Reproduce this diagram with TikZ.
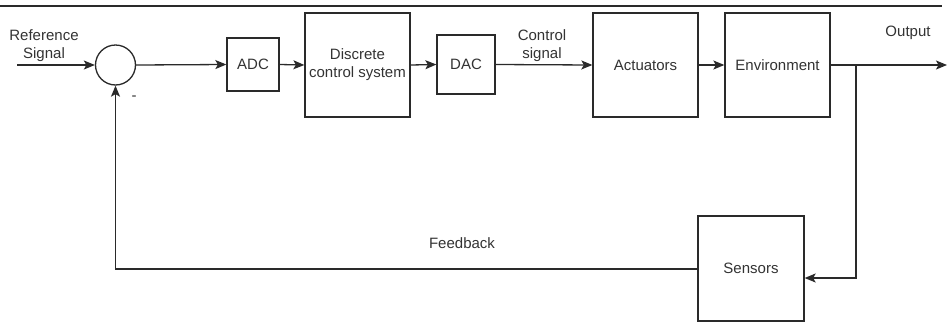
\documentclass[tikz,border=0pt]{standalone}
\usepackage{fontspec}
\setmainfont{Liberation Sans}
\usetikzlibrary{arrows.meta}
\definecolor{ink}{HTML}{2A2A2A}
\definecolor{txt}{HTML}{333333}
\begin{document}
\begin{tikzpicture}[x=1pt,y=-1pt,
  blk/.style={draw=ink,line width=1.3pt,fill=white,inner sep=0pt,font=\fontsize{15}{18}\selectfont,text=txt,align=center},
  lbl/.style={font=\fontsize{15}{18}\selectfont,text=txt,align=center,inner sep=0pt},
  conn/.style={draw=ink,line width=1.3pt,-{Stealth[length=11pt,width=9pt,inset=2.5pt]}},
  wire/.style={draw=ink,line width=1.3pt}]
\useasboundingbox (0,0) rectangle (948,322);
\fill[white] (0,0) rectangle (948,322);
\draw[ink,line width=1.5pt] (0,6) -- (942,6);
% nodes
\node[circle,draw=ink,line width=1.3pt,minimum size=40pt,inner sep=0pt] (sum) at (115.5,65) {};
\node[blk,minimum width=52pt,minimum height=53pt] (adc) at (253,64.5) {ADC};
\node[blk,minimum width=105pt,minimum height=104pt] (dcs) at (357.5,65) {Discrete\\control system};
\node[blk,minimum width=58pt,minimum height=59pt] (dac) at (466,64.5) {DAC};
\node[blk,minimum width=105pt,minimum height=104pt] (act) at (645.5,65) {Actuators};
\node[blk,minimum width=105pt,minimum height=104pt] (env) at (777.5,65) {Environment};
\node[blk,minimum width=106pt,minimum height=105pt] (sen) at (751,268.5) {Sensors};
\coordinate (refin) at (17,65);
\coordinate (outend) at (947,65);
\coordinate (br) at (856,65);
\coordinate (brdown) at (856,278);
\coordinate (fbcorner) at (115.5,269);
% labels
\node[lbl] (reflbl) at (44,46) {Reference\\Signal};
\node[lbl] (ctllbl) at (542,46) {Control\\signal};
\node[lbl] (outlbl) at (908,33) {Output};
\node[lbl] (fblbl) at (462,243) {Feedback};
\node[lbl] (minus) at (134,98) {-};
% connectors
\draw[conn] (refin) -- (sum.west);
\draw[conn] (sum.east) -- (adc.west);
\draw[conn] (adc.east) -- (dcs.west);
\draw[conn] (dcs.east) -- (dac.west);
\draw[conn] (dac.east) -- (act.west);
\draw[conn] (act.east) -- (env.west);
\draw[conn] (env.east) -- (outend);
\draw[conn] (br) -- (brdown) -- (sen.east |- brdown);
\draw[conn] (sen.west |- fbcorner) -- (fbcorner) -- (sum.south);
\end{tikzpicture}
\end{document}
